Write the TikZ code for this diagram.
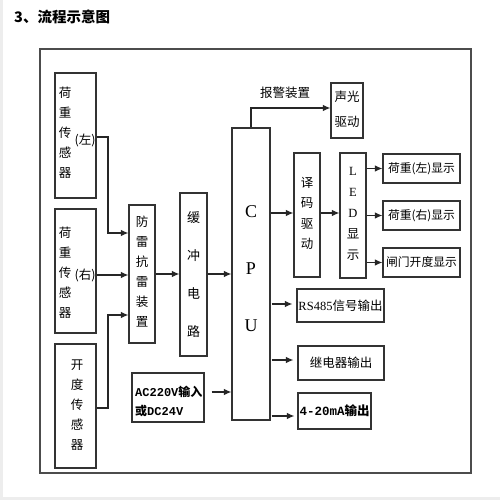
\documentclass[tikz,border=0pt]{standalone}
\usepackage{fontspec}
\usepackage{graphicx}
\setmainfont{Liberation Serif}
\newfontfamily\cjk{Noto Sans CJK SC}
\newfontfamily\mono{Liberation Mono}
\usetikzlibrary{arrows.meta}
\begin{document}
\begin{tikzpicture}[x=1pt,y=-1pt,
 box/.style={draw=black!80, line width=1.2pt, inner sep=0pt},
 arr/.style={draw=black!85, line width=1.1pt, -{Latex[length=7.5pt,width=6.5pt]}},
 vt/.style={align=center, inner sep=0pt, font=\cjk\fontsize{12.5}{20}\selectfont},
 cn/.style={inner sep=0pt, font=\cjk\fontsize{12.5}{14}\selectfont},
 dn/.style={inner sep=0pt, font=\cjk\fontsize{11.8}{14}\selectfont}]
\useasboundingbox (0,0) rectangle (500,500);
\fill[white] (0,0) rectangle (500,500);
\fill[black!7] (0,0) rectangle (3,500);
\fill[black!7] (0,497) rectangle (500,500);

\node[anchor=west, inner sep=0pt, font=\cjk\bfseries\fontsize{14.5}{16}\selectfont] (title) at (14,17) {3、流程示意图};

\node[draw=black!70, line width=1.4pt, minimum width=431pt, minimum height=424pt, inner sep=0pt] (frame) at (255.5,261) {};

% sensor boxes
\node[box, minimum width=41pt, minimum height=125pt] (s1) at (75.5,135.5) {};
\node[box, minimum width=41pt, minimum height=124pt] (s2) at (75.5,271) {};
\node[box, minimum width=41pt, minimum height=124pt] (s3) at (75.5,406) {};
\node[vt] (s1t) at (65,133) {荷\\重\\传\\感\\器};
\node[cn] (s1p) at (85,140) {(左)};
\node[vt] (s2t) at (65,273) {荷\\重\\传\\感\\器};
\node[cn] (s2p) at (85,275) {(右)};
\node[vt] (s3t) at (77,405) {开\\度\\传\\感\\器};

% middle boxes
\node[box, minimum width=26pt, minimum height=138pt] (fl) at (142,274) {};
\node[vt] (flt) at (142,272) {防\\雷\\抗\\雷\\装\\置};
\node[box, minimum width=27pt, minimum height=163pt] (hc) at (193.5,274.5) {};
\node[vt, font=\cjk\fontsize{13}{38}\selectfont] (hct) at (193.5,275) {缓\\冲\\电\\路};
\node[box, minimum width=38pt, minimum height=292pt] (cpu) at (251,274) {};
\node[align=center, inner sep=0pt, font=\fontsize{18}{57}\selectfont] (cput) at (251,269) {C\\P\\U};
\node[box, minimum width=72pt, minimum height=49pt] (ac) at (168,397.5) {};
\node[anchor=west, align=left, inner sep=0pt, font=\fontsize{12}{19}\selectfont] (act) at (135,401.5)
 {{\mono\bfseries AC220V}{\cjk\bfseries 输入}\\{\cjk\bfseries 或}{\mono\bfseries DC24V}};

% right boxes
\node[box, minimum width=32pt, minimum height=55pt] (sg) at (347,110.5) {};
\node[align=center, inner sep=0pt, font=\cjk\fontsize{12.5}{25}\selectfont] (sgt) at (347,109) {声光\\驱动};
\node[box, minimum width=26pt, minimum height=124pt] (ym) at (307,215) {};
\node[vt, font=\cjk\fontsize{12.5}{20.5}\selectfont] (ymt) at (307,213.5) {译\\码\\驱\\动};
\node[box, minimum width=26pt, minimum height=125pt] (led) at (353,215.5) {};
\node[vt, font=\cjk\fontsize{12.5}{21}\selectfont] (ledt) at (353,214) {{\rmfamily L}\\{\rmfamily E}\\{\rmfamily D}\\显\\示};
\node[box, dn, minimum width=77pt, minimum height=29pt] (d1) at (421.5,168.5) {荷重(左)显示};
\node[box, dn, minimum width=77pt, minimum height=29pt] (d2) at (421.5,215.5) {荷重(右)显示};
\node[box, dn, minimum width=77pt, minimum height=29pt] (d3) at (421.5,262.5) {闸门开度显示};
\node[box, cn, minimum width=87pt, minimum height=33pt] (rs) at (340.5,305.5) {{\rmfamily RS485}信号输出};
\node[box, cn, minimum width=86pt, minimum height=34pt] (jd) at (341,363) {继电器输出};
\node[box, cn, minimum width=73pt, minimum height=36pt] (ma) at (334.5,411) {{\mono\bfseries 4-20mA}{\cjk\bfseries 输出}};
\node[cn] (bj) at (285,93) {报警装置};

% helper coordinates
\coordinate (k1) at (108,137);
\coordinate (k2) at (108,233);
\coordinate (k3) at (108,408);
\coordinate (k4) at (108,315);
\coordinate (kr) at (0,275);
\coordinate (km) at (0,274);
\coordinate (kac) at (0,392);
\coordinate (kal) at (0,108);
\coordinate (ky) at (0,213);
\coordinate (k5) at (0,304);
\coordinate (k6) at (0,360);
\coordinate (k7) at (0,416);

% connectors
\draw[arr] (s1.east|-k1) -- (k1) -- (k2) -- (fl.west|-k2);
\draw[arr] (s2.east|-kr) -- (fl.west|-kr);
\draw[arr] (s3.east|-k3) -- (k3) -- (k4) -- (fl.west|-k4);
\draw[arr] (fl.east|-km) -- (hc.west|-km);
\draw[arr] (hc.east|-km) -- (cpu.west|-km);
\draw[arr] ([xshift=7pt]ac.east|-kac) -- (cpu.west|-kac);
\draw[arr] (cpu.north) -- (cpu.north|-kal) -- (sg.west|-kal);
\draw[arr] (cpu.east|-ky) -- (ym.west|-ky);
\draw[arr] (ym.east|-ky) -- (led.west|-ky);
\draw[arr] (led.east|-d1.west) -- (d1.west);
\draw[arr] (led.east|-d2.west) -- (d2.west);
\draw[arr] (led.east|-d3.west) -- (d3.west);
\draw[arr] ([xshift=1pt]cpu.east|-k5) -- ([xshift=-4pt]rs.west|-k5);
\draw[arr] ([xshift=1pt]cpu.east|-k6) -- ([xshift=-4pt]jd.west|-k6);
\draw[arr] ([xshift=1pt]cpu.east|-k7) -- ([xshift=-3pt]ma.west|-k7);
\end{tikzpicture}
\end{document}
